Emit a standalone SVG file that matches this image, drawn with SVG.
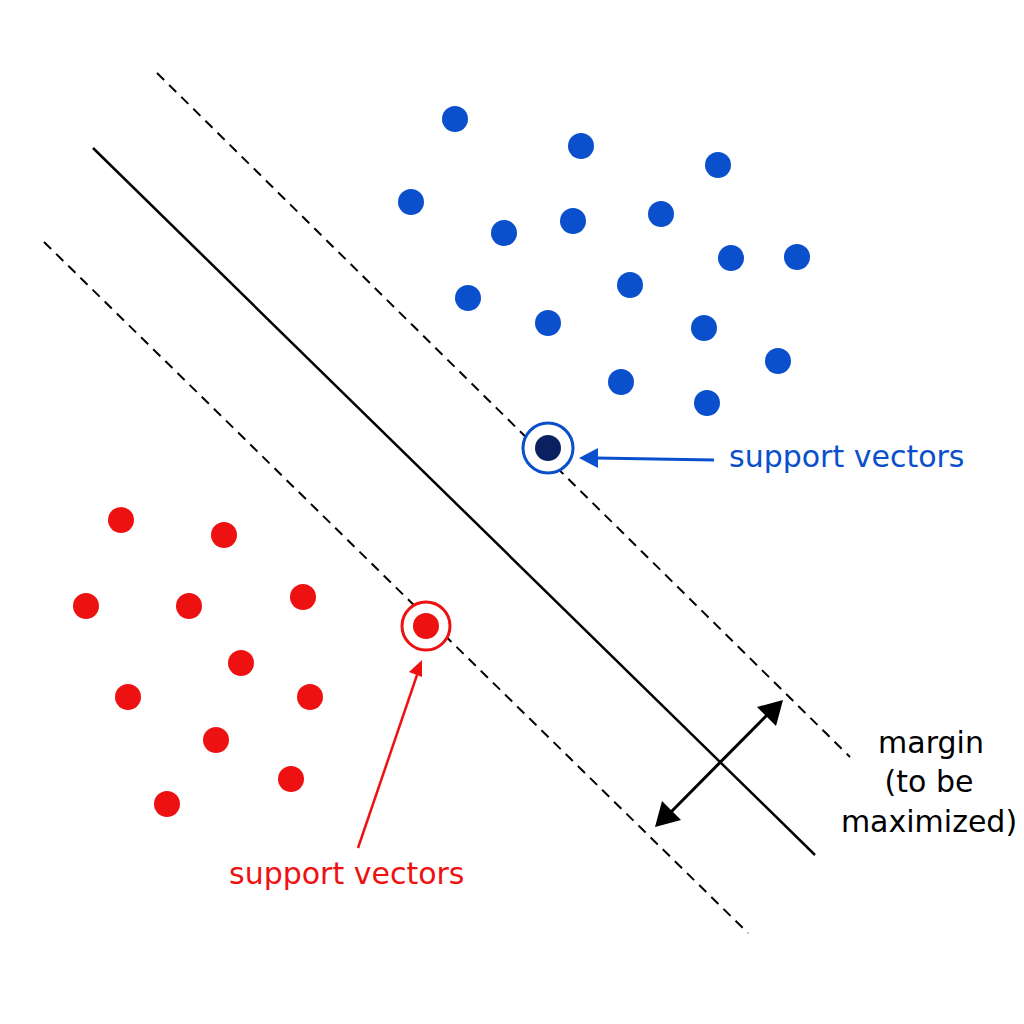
<svg xmlns="http://www.w3.org/2000/svg" width="1024" height="1024" viewBox="0 0 1024 1024">
<defs>
<style>
.b{fill:#0a4fcc}.r{fill:#ee1111}
.dash{stroke:#000;stroke-width:2;stroke-dasharray:10,7;fill:none}
text{font-family:"DejaVu Sans",sans-serif;font-size:30px}
</style>
</defs>
<rect width="1024" height="1024" fill="#fff"/>
<g id="lines">
<line class="dash" x1="157" y1="73" x2="850" y2="757"/>
<line x1="93" y1="148" x2="815" y2="855" stroke="#000" stroke-width="2.5"/>
<line class="dash" x1="44" y1="242" x2="748" y2="933"/>
</g>
<g id="blue">
<circle class="b" cx="455" cy="119" r="13"/><circle class="b" cx="581" cy="146" r="13"/><circle class="b" cx="718" cy="165" r="13"/>
<circle class="b" cx="411" cy="202" r="13"/><circle class="b" cx="504" cy="233" r="13"/><circle class="b" cx="573" cy="221" r="13"/>
<circle class="b" cx="661" cy="214" r="13"/><circle class="b" cx="731" cy="258" r="13"/><circle class="b" cx="797" cy="257" r="13"/>
<circle class="b" cx="468" cy="298" r="13"/><circle class="b" cx="630" cy="285" r="13"/><circle class="b" cx="548" cy="323" r="13"/>
<circle class="b" cx="704" cy="328" r="13"/><circle class="b" cx="778" cy="361" r="13"/><circle class="b" cx="621" cy="382" r="13"/>
<circle class="b" cx="707" cy="403" r="13"/>
</g>
<g id="red">
<circle class="r" cx="121" cy="520" r="13"/><circle class="r" cx="224" cy="535" r="13"/><circle class="r" cx="86" cy="606" r="13"/>
<circle class="r" cx="189" cy="606" r="13"/><circle class="r" cx="303" cy="597" r="13"/><circle class="r" cx="241" cy="663" r="13"/>
<circle class="r" cx="128" cy="697" r="13"/><circle class="r" cx="310" cy="697" r="13"/><circle class="r" cx="216" cy="740" r="13"/>
<circle class="r" cx="291" cy="779" r="13"/><circle class="r" cx="167" cy="804" r="13"/>
</g>
<g id="sv-blue">
<circle cx="548" cy="448" r="25" fill="#fff" stroke="#0a4fcc" stroke-width="3"/>
<circle cx="548" cy="448" r="13" fill="#0b2060"/>
</g>
<g id="sv-red">
<circle cx="426" cy="626" r="24" fill="#fff" stroke="#ee1111" stroke-width="3"/>
<circle cx="426" cy="626" r="13" fill="#ee1111"/>
</g>
<g id="connectors">
<line x1="714" y1="460" x2="596" y2="458" stroke="#0a4fcc" stroke-width="3"/>
<path d="M579,458 L598,448 L598,468 z" fill="#0a4fcc"/>
<line x1="358" y1="848" x2="417" y2="675" stroke="#ee1111" stroke-width="2.5"/>
<path d="M422,660 L422,677 L409,672 z" fill="#ee1111"/>
<line x1="670" y1="813" x2="768" y2="714" stroke="#000" stroke-width="3"/>
<path d="M783,700 L776,726 L757,707 z" fill="#000"/>
<path d="M655,827 L662,801 L681,820 z" fill="#000"/>
</g>
<g id="labels">
<text x="729" y="467" fill="#0a4fcc">support vectors</text>
<text x="229" y="884" fill="#ee1111">support vectors</text>
<text x="931" y="753" text-anchor="middle" fill="#000">margin</text>
<text x="929" y="792" text-anchor="middle" fill="#000">(to be</text>
<text x="929" y="832" text-anchor="middle" fill="#000">maximized)</text>
</g>
</svg>
